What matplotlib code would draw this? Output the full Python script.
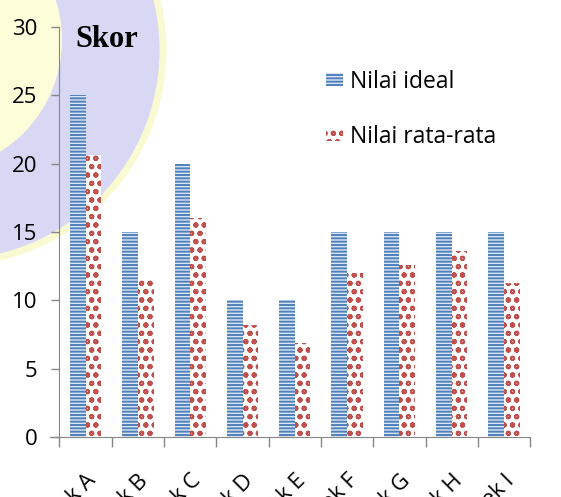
import numpy as np
import matplotlib
matplotlib.use('Agg')
import matplotlib.pyplot as plt
from matplotlib.patches import Circle

plt.rcParams['font.family'] = ['Open Sans', 'DejaVu Sans']
plt.rcParams['hatch.linewidth'] = 1.4

aspek = ['Aspek A', 'Aspek B', 'Aspek C', 'Aspek D', 'Aspek E',
         'Aspek F', 'Aspek G', 'Aspek H', 'Aspek I']
nilai_ideal = [25, 15, 20, 10, 10, 15, 15, 15, 15]
nilai_rata = [20.6, 11.6, 16.0, 8.2, 6.9, 12.0, 12.6, 13.6, 11.3]

fig = plt.figure(figsize=(5.61, 4.97), dpi=100)

# faint watermark logo behind the chart
bg = fig.add_axes([0, 0, 1, 1], zorder=0)
bg.set_xlim(0, 561)
bg.set_ylim(497, 0)
bg.axis('off')
bg.add_patch(Circle((-50, 50), 213, facecolor='#d8d8f4', edgecolor='#fafad2', lw=5))
bg.add_patch(Circle((-70, 40), 132, facecolor='#fdfdda', edgecolor='none'))

ax = fig.add_axes([0.106, 0.1207, 0.839, 0.825], zorder=1)
ax.patch.set_alpha(0)

x = np.arange(len(aspek))
w = 0.3
b1 = ax.bar(x - w / 2, nilai_ideal, w, facecolor='#dbe5f1', edgecolor='#4F81BD',
            hatch='-----', linewidth=0, label='Nilai ideal')
b2 = ax.bar(x + w / 2, nilai_rata, w, facecolor='white', edgecolor='#C0504D',
            hatch='oo', linewidth=0, label='Nilai rata-rata')

for s in ['top', 'right']:
    ax.spines[s].set_visible(False)
ax.spines['left'].set_color('#868686')
ax.spines['bottom'].set_color('#868686')
ax.spines['bottom'].set_bounds(-0.68, len(aspek) - 0.5)

ax.set_xlim(-0.5, len(aspek) - 0.5)
ax.set_ylim(0, 30)
ax.set_yticks(range(0, 31, 5))
ax.set_xticks(x)
ax.set_xticklabels(aspek, fontsize=16, rotation=45, ha='right', va='top',
                   rotation_mode='anchor')
ax.set_xticks(np.arange(-0.5, len(aspek), 1), minor=True)
ax.tick_params(axis='x', which='major', length=0, pad=24)
ax.tick_params(axis='x', which='minor', length=7, width=1, color='#868686',
               direction='out')
ax.tick_params(axis='y', length=6, width=1, color='#868686', labelsize=16, pad=10)

fig.text(0.135, 0.95, 'Skor', fontsize=22, fontweight='bold',
         family='Liberation Serif', va='top')

fig.legend(handles=[b1, b2], loc='upper left', bbox_to_anchor=(0.56, 0.883),
           frameon=False, fontsize=16.5, handlelength=0.75, handleheight=0.55,
           handletextpad=0.3, labelspacing=1.35, borderpad=0)

fig.savefig('out.png', dpi=100)
